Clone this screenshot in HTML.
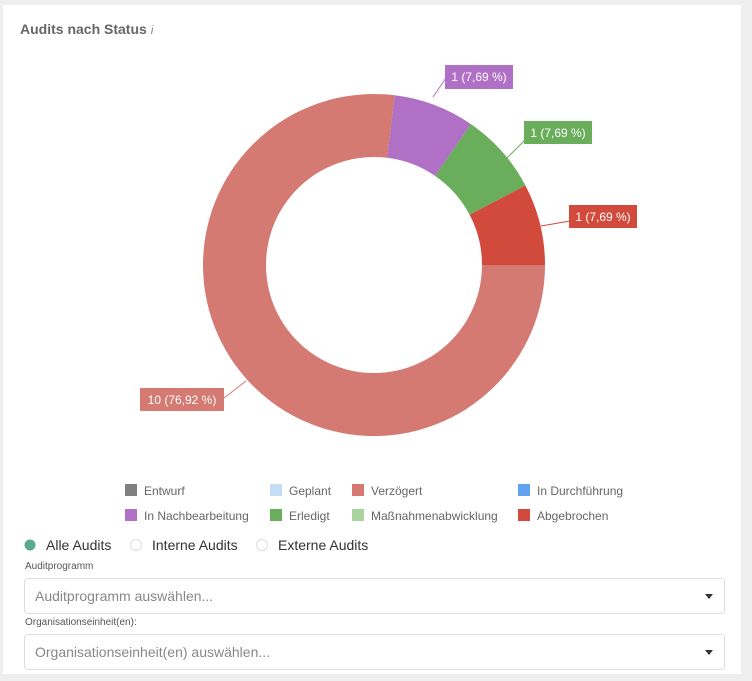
<!DOCTYPE html>
<html><head><style>
body{margin:0;background:#efefef;font-family:"Liberation Sans","DejaVu Sans",sans-serif;}
.card{position:absolute;left:3px;top:5px;width:738px;height:669px;background:#fff;}
.t{position:absolute;font-size:13px;color:#555;}
.sel{position:absolute;left:24px;width:699px;height:34px;border:1px solid #ddd;border-radius:4px;background:#fff;}
.sel span{position:absolute;left:10px;top:9px;font-size:14px;color:#888;}
.sel i{position:absolute;right:11px;top:15px;width:0;height:0;border-left:4px solid transparent;border-right:4px solid transparent;border-top:5px solid #333;}
</style></head><body>
<div class="card"></div>
<div class="t" style="left:20px;top:21px;font-size:14px;font-weight:bold;color:#666;">Audits nach Status <span style="font-weight:normal;font-style:italic;font-size:12px;color:#888">i</span></div>
<svg width="752" height="681" style="position:absolute;left:0;top:0" font-family="Liberation Sans, sans-serif" font-size="12">
<g transform="translate(374,265)">
<path d="M171,0 A171,171 0 1 1 20.8,-169.7 L13.2,-107.2 A108,108 0 1 0 108,0 Z" fill="#d47a72"/>
<path d="M20.8,-169.7 A171,171 0 0 1 96.9,-140.9 L61.2,-89 A108,108 0 0 0 13.2,-107.2 Z" fill="#b070c6"/>
<path d="M96.9,-140.9 A171,171 0 0 1 151.4,-79.5 L95.6,-50.2 A108,108 0 0 0 61.2,-89 Z" fill="#6aad5b"/>
<path d="M151.4,-79.5 A171,171 0 0 1 171,0 L108,0 A108,108 0 0 0 95.6,-50.2 Z" fill="#d24a3c"/>
</g>
<g fill="none" stroke-width="1">
<polyline points="433,97 446,78" stroke="#b070c6"/>
<polyline points="503,162 525,140" stroke="#6aad5b"/>
<polyline points="541,226 570,221" stroke="#d24a3c"/>
<polyline points="246,381 224,398" stroke="#d47a72"/>
</g>
<rect x="445" y="65" width="68" height="24" fill="#b070c6"/><text x="479" y="81" fill="#fff" text-anchor="middle">1 (7,69 %)</text>
<rect x="524" y="121" width="68" height="23" fill="#6aad5b"/><text x="558" y="137" fill="#fff" text-anchor="middle">1 (7,69 %)</text>
<rect x="569" y="205" width="68" height="23" fill="#d24a3c"/><text x="603" y="221" fill="#fff" text-anchor="middle">1 (7,69 %)</text>
<rect x="140" y="388" width="84" height="23" fill="#d47a72"/><text x="182" y="404" fill="#fff" text-anchor="middle">10 (76,92 %)</text>
<g font-size="12" fill="#666">
<rect x="125" y="484" width="12" height="12" fill="#808080"/><text x="144" y="495">Entwurf</text>
<rect x="270" y="484" width="12" height="12" fill="#c5dcf5"/><text x="289" y="495">Geplant</text>
<rect x="352" y="484" width="12" height="12" fill="#d47a72"/><text x="371" y="495">Verzögert</text>
<rect x="518" y="484" width="12" height="12" fill="#62a3ef"/><text x="537" y="495">In Durchführung</text>
<rect x="125" y="509" width="12" height="12" fill="#b070c6"/><text x="144" y="520">In Nachbearbeitung</text>
<rect x="270" y="509" width="12" height="12" fill="#6aad5b"/><text x="289" y="520">Erledigt</text>
<rect x="352" y="509" width="12" height="12" fill="#a9d4a0"/><text x="371" y="520">Maßnahmenabwicklung</text>
<rect x="518" y="509" width="12" height="12" fill="#d24a3c"/><text x="537" y="520">Abgebrochen</text>
</g>
<circle cx="30" cy="545" r="5.5" fill="#5aa890"/>
<circle cx="136" cy="545" r="5.5" fill="#fff" stroke="#ddd"/>
<circle cx="262" cy="545" r="5.5" fill="#fff" stroke="#ddd"/>
<g font-size="14" fill="#333"><text x="46" y="550">Alle Audits</text><text x="152" y="550">Interne Audits</text><text x="278" y="550">Externe Audits</text></g>
<g font-size="10" fill="#555"><text x="25" y="569">Auditprogramm</text><text x="25" y="625">Organisationseinheit(en):</text></g>
</svg>
<div class="sel" style="top:578px"><span>Auditprogramm auswählen...</span><i></i></div>
<div class="sel" style="top:634px"><span>Organisationseinheit(en) auswählen...</span><i></i></div>
</body></html>
